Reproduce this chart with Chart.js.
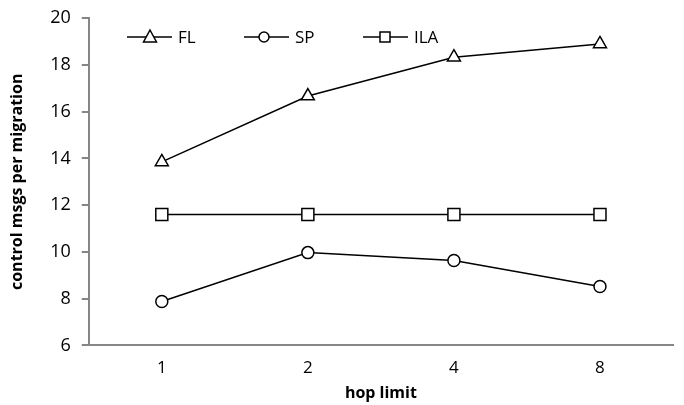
<!DOCTYPE html>
<html>
<head>
<meta charset="utf-8">
<script src="https://cdn.jsdelivr.net/npm/chart.js@4/dist/chart.umd.min.js"></script>
<style>
  body { margin: 0; background: #fff; }
  #wrap { width: 684px; height: 405px; }
</style>
</head>
<body>
<div id="wrap"><canvas id="hopchart"></canvas></div>
<script>
const hopLimits = ["1", "2", "4", "8"];
const flMsgs = [13.85, 16.67, 18.33, 18.9];
const spMsgs = [7.88, 9.97, 9.63, 8.52];
const ilaMsgs = [11.6, 11.6, 11.6, 11.6];
const seriesNames = ["FL", "SP", "ILA"];

const axisGray = "#868686";
const fontFam = "'Open Sans', sans-serif";

function markerSize(shape) {
    if (shape === "rect") return 8.5;
    if (shape === "triangle") return 7.5;
    return 6;
}

function makeSet(name, values, shape) {
    return {
        label: name,
        data: values,
        borderColor: "#000",
        borderWidth: 1.5,
        backgroundColor: "#fff",
        pointStyle: shape,
        pointRadius: markerSize(shape),
        pointBorderColor: "#000",
        pointBackgroundColor: "#fff",
        pointBorderWidth: 1.5,
        tension: 0,
    };
}

// legend sits inside the plot, drawn by hand
const legendInside = {
    id: "legendInside",
    afterDraw(chart) {
        const ctx = chart.ctx;
        const starts = [127, 244, 363];
        const y = 37;
        chart.data.datasets.forEach((ds, i) => {
            const x0 = starts[i];
            ctx.save();
            ctx.strokeStyle = "#000";
            ctx.lineWidth = 1.5;
            ctx.beginPath();
            ctx.moveTo(x0, y);
            ctx.lineTo(x0 + 45, y);
            ctx.stroke();
            ctx.beginPath();
            if (ds.pointStyle === "triangle") {
                ctx.moveTo(x0 + 23, y - 7);
                ctx.lineTo(x0 + 29.5, y + 5);
                ctx.lineTo(x0 + 16.5, y + 5);
                ctx.closePath();
            } else if (ds.pointStyle === "circle") {
                ctx.arc(x0 + 20, y, 5, 0, Math.PI * 2);
            } else {
                ctx.rect(x0 + 17, y - 5, 10, 10);
            }
            ctx.fillStyle = "#fff";
            ctx.fill();
            ctx.stroke();
            ctx.fillStyle = "#000";
            ctx.font = "17px " + fontFam;
            ctx.textBaseline = "middle";
            ctx.fillText(ds.label, x0 + 51, y + 1);
            ctx.restore();
        });
    }
};

let cx = document.getElementById("hopchart").getContext("2d");
var hopChart = new Chart(cx, {
    type: "line",
    data: {
        labels: hopLimits,
        datasets: [
            makeSet(seriesNames[0], flMsgs, "triangle"),
            makeSet(seriesNames[1], spMsgs, "circle"),
            makeSet(seriesNames[2], ilaMsgs, "rect"),
        ],
    },
    options: {
        responsive: true,
        maintainAspectRatio: false,
        animation: false,
        layout: { padding: { top: 0, right: 11, bottom: 2, left: 8 } },
        plugins: {
            legend: { display: false },
            tooltip: { enabled: false },
        },
        scales: {
            x: {
                offset: true,
                grid: { display: false },
                border: { display: true, color: axisGray, width: 2 },
                ticks: { color: "#000", font: { family: fontFam, size: 17 }, padding: 5 },
                title: {
                    display: true,
                    text: "hop limit",
                    color: "#000",
                    font: { family: fontFam, size: 16, weight: "bold" },
                    padding: { top: 0, bottom: 0 },
                },
            },
            y: {
                min: 6,
                max: 20,
                ticks: { stepSize: 2, color: "#000", font: { family: fontFam, size: 18, lineHeight: 0.8 }, padding: 11 },
                grid: { drawOnChartArea: false, drawTicks: true, tickLength: 7, color: axisGray, lineWidth: 2 },
                border: { display: true, color: axisGray, width: 2 },
                title: {
                    display: true,
                    text: "control msgs per migration",
                    color: "#000",
                    font: { family: fontFam, size: 16, weight: "bold" },
                    padding: { top: 0, bottom: 12 },
                },
            },
        },
    },
    plugins: [legendInside],
});
</script>
</body>
</html>
